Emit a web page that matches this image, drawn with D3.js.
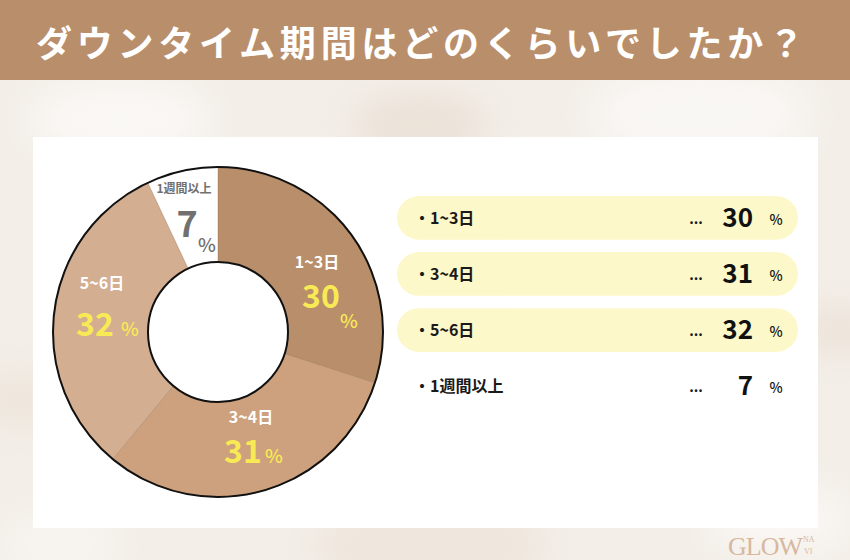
<!DOCTYPE html>
<html>
<head>
<meta charset="utf-8">
<script src="https://cdn.jsdelivr.net/npm/d3@7"></script>
<style>
  html, body { margin: 0; padding: 0; background: #f4efe9; }
  svg { display: block; }
  text { font-family: "Noto Sans CJK JP", "Noto Sans", sans-serif; }
  text.logo { font-family: "Liberation Serif", "DejaVu Serif", serif; }
</style>
</head>
<body>
<div id="chart"></div>
<script>
// data
const categories = ["1~3日", "3~4日", "5~6日", "1週間以上"];
const values = [30, 31, 32, 7];
const sliceColors = ["#b98e6b", "#cda17d", "#d4ae91", "#ffffff"];
const title = "ダウンタイム期間はどのくらいでしたか？";

const width = 850, height = 560;

const svg = d3.select("#chart").append("svg")
  .attr("width", width)
  .attr("height", height);

// soft textured background
const defs = svg.append("defs");
const blur = defs.append("filter").attr("id", "soft").attr("x", "-50%").attr("y", "-50%").attr("width", "200%").attr("height", "200%");
blur.append("feGaussianBlur").attr("stdDeviation", 18);

svg.append("rect").attr("width", width).attr("height", height).attr("fill", "#f3eee8");
const blobs = [
  [120, 120, 90, "#faf8f5"], [420, 125, 70, "#ebe2d8"], [700, 115, 110, "#f9f7f4"],
  [20, 400, 60, "#eee6dc"], [840, 330, 50, "#ece3d9"], [430, 545, 120, "#efe7de"],
  [780, 520, 70, "#faf8f5"], [60, 545, 60, "#f8f5f1"]
];
svg.append("g").attr("filter", "url(#soft)")
  .selectAll("ellipse").data(blobs).join("ellipse")
  .attr("cx", d => d[0]).attr("cy", d => d[1])
  .attr("rx", d => d[2]).attr("ry", d => d[2] * 0.45)
  .attr("fill", d => d[3]);

// title bar
svg.append("rect").attr("x", 0).attr("y", 0).attr("width", width).attr("height", 80).attr("fill", "#b98e6b");
svg.append("text")
  .attr("x", 36).attr("y", 57)
  .attr("textLength", 768).attr("lengthAdjust", "spacing")
  .attr("fill", "#ffffff")
  .style("font-size", "36px").style("font-weight", 700)
  .text(title);

// white panel
svg.append("rect").attr("x", 33).attr("y", 137).attr("width", 785).attr("height", 391).attr("fill", "#ffffff");

// donut
const cx = 218, cy = 332, outerR = 165, innerR = 70;
const pie = d3.pie().sort(null).value(d => d.value);
const arcs = pie(categories.map((c, i) => ({ name: c, value: values[i], color: sliceColors[i] })));
const arc = d3.arc().innerRadius(innerR).outerRadius(outerR);

const g = svg.append("g").attr("transform", `translate(${cx},${cy})`);
g.selectAll("path.slice").data(arcs).join("path")
  .attr("class", "slice")
  .attr("d", arc)
  .attr("fill", d => d.data.color)
  .attr("stroke", "#9c7a5e")
  .attr("stroke-width", 0.4);
g.append("circle").attr("r", outerR).attr("fill", "none").attr("stroke", "#111").attr("stroke-width", 2);
g.append("circle").attr("r", innerR).attr("fill", "#ffffff").attr("stroke", "#111").attr("stroke-width", 2);

// slice labels (positions chosen per slice, like the original artwork)
const labelPos = [
  { name: [317, 268], num: [321, 308], pct: [349, 328], nameSize: 16, numSize: 32, pctSize: 19, nameColor: "#fff", numColor: "#f8ea55" },
  { name: [251, 423], num: [243, 463], pct: [274, 463], nameSize: 16, numSize: 32, pctSize: 19, nameColor: "#fff", numColor: "#f8ea55" },
  { name: [102, 289], num: [95, 336], pct: [130, 336], nameSize: 16, numSize: 32, pctSize: 19, nameColor: "#fff", numColor: "#f8ea55" },
  { name: [184, 193], num: [187, 237], pct: [207, 252], nameSize: 12, numSize: 36, pctSize: 19, nameColor: "#707070", numColor: "#707070" }
];
const lab = svg.append("g").selectAll("g").data(arcs).join("g");
lab.append("text")
  .attr("x", (d, i) => labelPos[i].name[0]).attr("y", (d, i) => labelPos[i].name[1])
  .attr("text-anchor", "middle")
  .attr("fill", (d, i) => labelPos[i].nameColor)
  .style("font-size", (d, i) => labelPos[i].nameSize + "px").style("font-weight", 700)
  .text(d => d.data.name);
lab.append("text")
  .attr("x", (d, i) => labelPos[i].num[0]).attr("y", (d, i) => labelPos[i].num[1])
  .attr("text-anchor", "middle")
  .attr("fill", (d, i) => labelPos[i].numColor)
  .style("font-size", (d, i) => labelPos[i].numSize + "px").style("font-weight", 700)
  .text(d => d.data.value);
lab.append("text")
  .attr("x", (d, i) => labelPos[i].pct[0]).attr("y", (d, i) => labelPos[i].pct[1])
  .attr("text-anchor", "middle")
  .attr("fill", (d, i) => labelPos[i].numColor)
  .style("font-size", (d, i) => labelPos[i].pctSize + "px").style("font-weight", 500)
  .text("%");

// legend list
const rowY = d3.scaleBand().domain(categories).range([196, 408]).paddingInner(0.22);
const legend = svg.append("g").selectAll("g").data(categories).join("g")
  .attr("transform", d => `translate(0,${rowY(d)})`);
legend.filter((d, i) => i < 3).append("rect")
  .attr("x", 397).attr("width", 401).attr("height", rowY.bandwidth())
  .attr("rx", rowY.bandwidth() / 2)
  .attr("fill", "#fdf8c9");
const mid = rowY.bandwidth() / 2;
legend.append("text")
  .attr("x", 414).attr("y", mid + 6)
  .attr("fill", "#1a1a1a")
  .style("font-size", "16px").style("font-weight", 700)
  .text(d => "・" + d);
legend.append("text")
  .attr("x", 696).attr("y", mid + 6)
  .attr("text-anchor", "middle")
  .attr("fill", "#1a1a1a")
  .style("font-size", "14px").style("font-weight", 700)
  .text("...");
legend.append("text")
  .attr("x", 753).attr("y", mid + 9)
  .attr("text-anchor", "end")
  .attr("fill", "#111")
  .style("font-size", "26px").style("font-weight", 700)
  .text((d, i) => values[i]);
legend.append("text")
  .attr("x", 776).attr("y", mid + 7)
  .attr("text-anchor", "middle")
  .attr("fill", "#111")
  .style("font-size", "14px").style("font-weight", 500)
  .text("%");

// logo
const logo = svg.append("g").attr("fill", "#d7b89f");
logo.append("text").attr("class", "logo").attr("x", 728).attr("y", 555)
  .style("font-size", "26px").style("letter-spacing", "-1px")
  .text("GLOW");
logo.append("text").attr("class", "logo").attr("x", 803).attr("y", 542)
  .style("font-size", "8px")
  .text("NA");
logo.append("text").attr("class", "logo").attr("x", 804).attr("y", 554)
  .style("font-size", "8px")
  .text("VI");
</script>
</body>
</html>
